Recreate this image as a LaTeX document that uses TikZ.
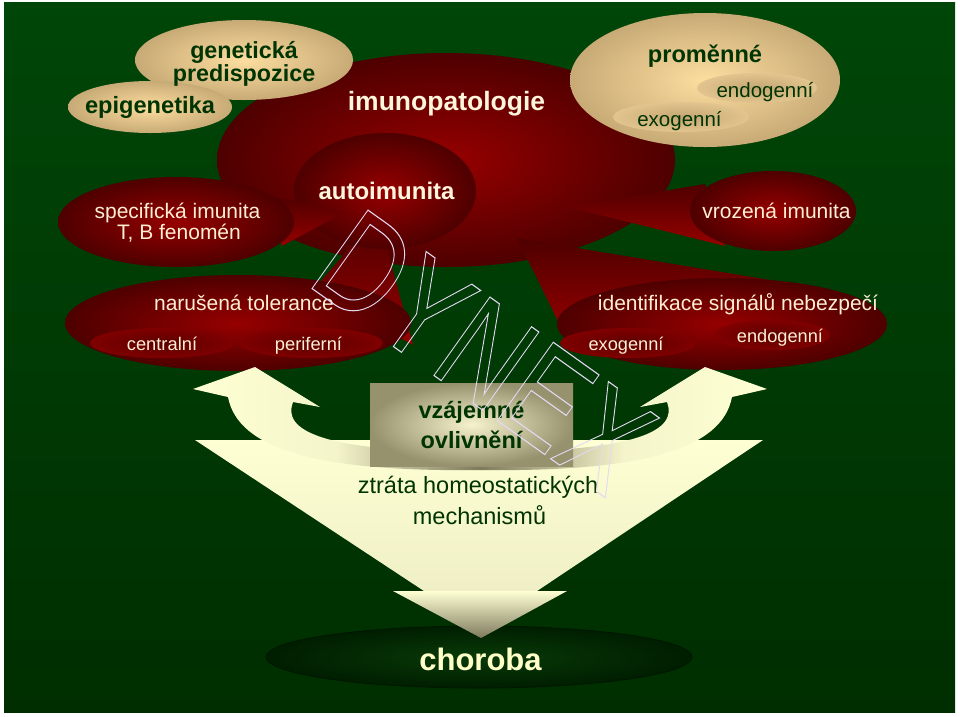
\documentclass[tikz,border=0pt]{standalone}
\usepackage{fontspec}
\setmainfont{Liberation Sans}
\usetikzlibrary{shapes.geometric}

\definecolor{bgtop}{RGB}{0,70,8}
\definecolor{bgbot}{RGB}{0,46,0}
\definecolor{redin}{RGB}{150,0,0}
\definecolor{redout}{RGB}{78,0,0}
\definecolor{reddeep}{RGB}{92,0,0}
\definecolor{redmid}{RGB}{128,0,0}
\definecolor{tanin}{RGB}{252,222,160}
\definecolor{tanout}{RGB}{200,170,118}
\definecolor{tandeep}{RGB}{196,166,115}
\definecolor{tanrim}{RGB}{226,196,142}
\definecolor{creamtxt}{RGB}{255,238,210}
\definecolor{titletxt}{RGB}{255,244,220}
\definecolor{greentxt}{RGB}{0,52,0}
\definecolor{arrcream}{RGB}{255,255,212}
\definecolor{arrgrey}{RGB}{125,122,92}
\definecolor{boxin}{RGB}{246,242,205}
\definecolor{boxout}{RGB}{150,146,110}
\definecolor{chorin}{RGB}{8,58,8}
\definecolor{chorout}{RGB}{0,30,0}
\definecolor{chorline}{RGB}{0,22,0}
\definecolor{chortxt}{RGB}{255,255,200}
\definecolor{wmark}{RGB}{228,216,242}

\newcommand{\fsz}[1]{\fontsize{#1}{#1}\selectfont}

\tikzset{every picture/.style={line width=0.75pt},
  redblob/.style={ellipse, inner sep=0pt, inner color=redin, outer color=redout},
  tanblob/.style={ellipse, inner sep=0pt, inner color=tanin, outer color=tanout},
  redpit/.style={ellipse, inner sep=0pt, inner color=reddeep, outer color=redmid},
  tanpit/.style={ellipse, inner sep=0pt, inner color=tandeep, outer color=tanrim},
  redtail/.style={top color=redout, bottom color=redin},
  wh/.style 2 args={minimum width=#1pt, minimum height=#2pt},
  lbl/.style={inner sep=0pt, anchor=base},
  onred/.style={lbl, text=creamtxt},
  ontan/.style={lbl, text=greentxt}}

\begin{document}
\begin{tikzpicture}[x=1pt,y=1pt,yscale=-1]
\useasboundingbox (0,0) rectangle (960,716);
\fill[white] (0,0) rectangle (960,716);
\shade[top color=bgtop, bottom color=bgbot] (4,2) rectangle (955,712);

% imunopatologie
\node (imuno) [redblob, wh={458}{214}] at (446,160) {};
\shade[redtail] (315,288) -- (378,215) -- (413,345) -- cycle;
\node (autoimu) [redblob, wh={182}{116}] at (385,191) {};

% tan ellipses
\node (genet) [tanblob, wh={218}{80}] at (244,60) {};
\node (epigen) [tanblob, wh={164}{52}] at (150,107) {};
\node (promen) [tanblob, wh={270}{134}] at (705,80) {};
\node (promendo) [tanpit, wh={120}{30}] at (757,88) {};
\node (promexo) [tanpit, wh={136}{30}] at (681,117) {};

% red ellipses
\shade[redtail] (270,196) -- (345,212) -- (282,246) -- cycle;
\node (specif) [redblob, wh={236}{90}] at (176,222) {};
\node (narus) [redblob, wh={346}{96}] at (238,323) {};
\node (central) [redpit, wh={144}{30}] at (162,343) {};
\node (perif) [redpit, wh={144}{30}] at (311,343) {};
\shade[redtail] (568,207) -- (705,184) -- (725,246) -- cycle;
\node (vroz) [redblob, wh={166}{80}] at (773,211) {};
\shade[redtail] (517,238) -- (830,290) -- (565,335) -- cycle;
\node (ident) [redblob, wh={330}{92}] at (722,324) {};
\node (identexo) [redpit, wh={136}{30}] at (628,343) {};
\node (identendo) [redpit, wh={116}{30}] at (772,335) {};

% choroba and big arrow
\node (choroba) [ellipse, inner sep=0pt, wh={426}{62}, inner color=chorin, outer color=chorout, draw=chorline] at (479,657) {};
\shade[top color=arrcream, bottom color=arrcream!88!arrgrey] (195,440) -- (763,440) -- (537,591) -- (424,591) -- cycle;
\shade[top color=arrcream, bottom color=arrgrey] (393,591) -- (567,591) -- (481,638) -- cycle;

% curved arrows
\shade[left color=arrcream, right color=arrgrey, middle color=arrcream!92!arrgrey]
  (480,470) .. controls (320,472) and (238,450) .. (228,397) -- (193,389) -- (255,367) -- (320,407) -- (293,402)
  .. controls (282,430) and (320,452) .. (480,452) -- cycle;
\shade[left color=arrgrey, right color=arrcream, middle color=arrcream!92!arrgrey]
  (480,470) .. controls (640,472) and (722,450) .. (732,397) -- (767,389) -- (705,367) -- (640,407) -- (667,402)
  .. controls (678,430) and (640,452) .. (480,452) -- cycle;
\node (mutual) [rectangle, inner sep=0pt, wh={203}{83}, inner color=boxin, outer color=boxout] at (471.5,424.5) {};

% texts
\node (imunotxt) [lbl, text=titletxt, font={\bfseries\fsz{26.5}}] at (446.5,110) {imunopatologie};
\node (autotxt) [lbl, text=titletxt, font={\bfseries\fsz{24}}] at (386.5,199) {autoimunita};
\node (genettxt) [ontan, font={\bfseries\fsz{23.3}}] at (244,58) {genetická};
\node (predtxt) [ontan, font={\bfseries\fsz{23.3}}] at (244,81) {predispozice};
\node (epigentxt) [ontan, font={\bfseries\fsz{23.6}}] at (150,113) {epigenetika};
\node (promentxt) [ontan, font={\bfseries\fsz{23.6}}] at (705,62) {proměnné};
\node (promendotxt) [ontan, font=\fsz{20.5}] at (765,97) {endogenní};
\node (promexotxt) [ontan, font=\fsz{20.5}] at (679.5,126) {exogenní};
\node (specif1) [onred, font=\fsz{21}] at (177.5,218) {specifická imunita};
\node (specif2) [onred, font=\fsz{21}] at (179,239) {T, B fenomén};
\node (vroztxt) [onred, font=\fsz{21}] at (776.5,218) {vrozená imunita};
\node (narustxt) [onred, font=\fsz{21}] at (244,310) {narušená tolerance};
\node (centraltxt) [onred, font=\fsz{18.3}] at (162,350) {centralní};
\node (periftxt) [onred, font=\fsz{18.3}] at (308.5,350) {periferní};
\node (identtxt) [onred, font=\fsz{21}] at (738,310) {identifikace signálů nebezpečí};
\node (identexotxt) [onred, font=\fsz{18.2}] at (626,350) {exogenní};
\node (identendotxt) [onred, font=\fsz{18.2}] at (780,342) {endogenní};
\node (mutual1) [ontan, font={\bfseries\fsz{23.5}}] at (471.5,418) {vzájemné};
\node (mutual2) [ontan, font={\bfseries\fsz{23.5}}] at (471.5,448) {ovlivnění};
\node (loss1) [ontan, font=\fsz{23.5}] at (478,493) {ztráta homeostatických};
\node (loss2) [ontan, font=\fsz{23.5}] at (479.5,524) {mechanismů};
\node (chorobatxt) [lbl, text=chortxt, font={\bfseries\fsz{31}}] at (480.5,670) {choroba};

% watermark
\node (dynex) [inner sep=0pt, rotate=-35.5, text=wmark] at (484,352)
  {\special{pdf:literal direct 1 Tr 1.1 w}\scalebox{0.77}[1]{\fsz{140}DYNEX}};
\end{tikzpicture}
\end{document}
